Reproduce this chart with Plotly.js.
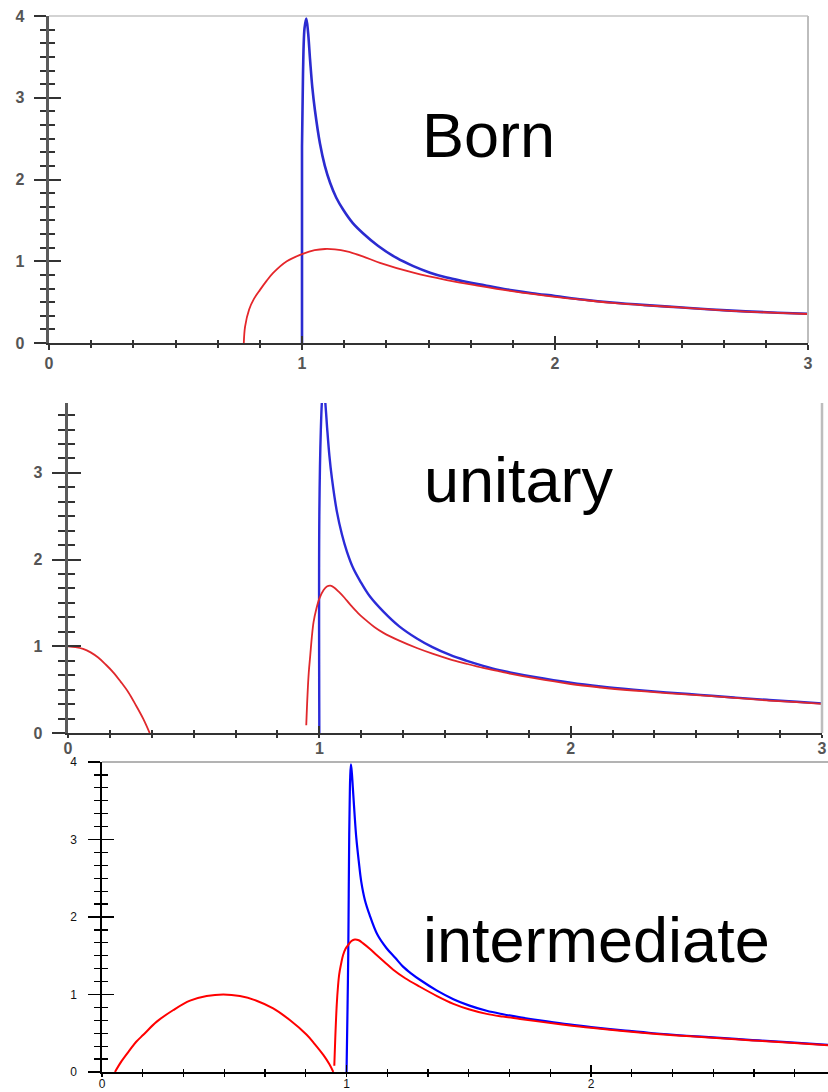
<!DOCTYPE html>
<html>
<head>
<meta charset="utf-8">
<script src="https://cdn.plot.ly/plotly-3.0.1.min.js"></script>
<style>html,body{margin:0;padding:0;background:#fff;}#chart{width:828px;height:1092px;}</style>
</head>
<body>
<div id="chart"></div>
<script>
// ---------- data ----------
var xTickVals = [0, 1, 2, 3];
var xTickText = ['0', '1', '2', '3'];
var yTickVals = [0, 1, 2, 3, 4];
var yTickText = ['0', '1', '2', '3', '4'];

var panelLabels = ['Born', 'unitary', 'intermediate'];

// Born
var bornBlueX = [1.0, 1.0, 1.004, 1.01, 1.017, 1.024, 1.032, 1.041, 1.051, 1.071, 1.09, 1.111, 1.135, 1.163, 1.2, 1.242, 1.3, 1.374, 1.44, 1.506, 1.572, 1.638, 1.70, 1.743, 1.83, 1.91, 2.0, 2.11, 2.226, 2.36, 2.49, 2.62, 2.753, 2.88, 3.0];
var bornBlueY = [0, 2.4, 3.3, 3.85, 3.97, 3.8, 3.46, 3.12, 2.85, 2.44, 2.17, 1.96, 1.78, 1.63, 1.47, 1.34, 1.19, 1.04, 0.94, 0.86, 0.80, 0.755, 0.717, 0.693, 0.645, 0.608, 0.575, 0.532, 0.495, 0.463, 0.437, 0.41, 0.387, 0.37, 0.357];
var bornRedX = [0.77, 0.775, 0.791, 0.81, 0.834, 0.86, 0.887, 0.94, 1.003, 1.05, 1.091, 1.13, 1.177, 1.24, 1.308, 1.44, 1.572, 1.70, 1.83, 2.0, 2.11, 2.226, 2.36, 2.49, 2.62, 2.753, 2.88, 3.0];
var bornRedY = [0, 0.2, 0.41, 0.54, 0.65, 0.76, 0.86, 1.0, 1.09, 1.135, 1.15, 1.145, 1.12, 1.06, 0.98, 0.86, 0.77, 0.70, 0.635, 0.565, 0.527, 0.49, 0.46, 0.435, 0.408, 0.385, 0.368, 0.355];

// unitary
var unitBlueX = [1.0, 1.0, 1.006, 1.012, 1.017, 1.024, 1.031, 1.04, 1.05, 1.07, 1.09, 1.11, 1.135, 1.163, 1.2, 1.255, 1.318, 1.388, 1.45, 1.52, 1.584, 1.652, 1.717, 1.758, 1.85, 2.0, 2.12, 2.25, 2.38, 2.515, 2.65, 2.78, 2.9, 3.0];
var unitBlueY = [0, 2.5, 3.5, 3.9, 4.0, 3.8, 3.52, 3.2, 2.94, 2.55, 2.29, 2.09, 1.9, 1.75, 1.58, 1.40, 1.23, 1.09, 0.99, 0.90, 0.835, 0.775, 0.725, 0.70, 0.65, 0.58, 0.537, 0.50, 0.468, 0.44, 0.41, 0.383, 0.36, 0.342];
var unitRedAX = [0, 0.03, 0.06, 0.09, 0.12, 0.15, 0.18, 0.21, 0.24, 0.27, 0.30, 0.325];
var unitRedAY = [1.0, 0.99, 0.97, 0.93, 0.87, 0.79, 0.70, 0.59, 0.47, 0.32, 0.16, 0.0];
var unitRedBX = [0.948, 0.953, 0.958, 0.964, 0.97, 0.977, 0.988, 1.0, 1.017, 1.03, 1.044, 1.06, 1.077, 1.1, 1.123, 1.155, 1.19, 1.22, 1.255, 1.318, 1.388, 1.45, 1.52, 1.584, 1.652, 1.717, 1.758, 1.85, 2.0, 2.12, 2.25, 2.38, 2.515, 2.65, 2.78, 2.9, 3.0];
var unitRedBY = [0.09, 0.44, 0.70, 0.90, 1.1, 1.28, 1.43, 1.55, 1.65, 1.69, 1.70, 1.675, 1.63, 1.56, 1.48, 1.38, 1.29, 1.22, 1.155, 1.065, 0.98, 0.915, 0.85, 0.80, 0.75, 0.71, 0.685, 0.635, 0.565, 0.525, 0.49, 0.46, 0.435, 0.405, 0.376, 0.355, 0.337];

// intermediate
var interBlueX = [1.0, 1.004, 1.007, 1.009, 1.011, 1.013, 1.015, 1.018, 1.022, 1.026, 1.033, 1.04, 1.05, 1.06, 1.075, 1.094, 1.125, 1.163, 1.2, 1.231, 1.265, 1.30, 1.37, 1.437, 1.5, 1.573, 1.64, 1.71, 1.79, 1.89, 2.0, 2.13, 2.255, 2.39, 2.528, 2.66, 2.80, 2.97];
var interBlueY = [0, 0.8, 1.51, 2.3, 3.06, 3.5, 3.8, 3.97, 3.85, 3.66, 3.32, 3.02, 2.72, 2.46, 2.22, 2.03, 1.78, 1.60, 1.47, 1.36, 1.27, 1.19, 1.05, 0.94, 0.86, 0.79, 0.745, 0.705, 0.665, 0.62, 0.58, 0.538, 0.50, 0.468, 0.44, 0.412, 0.385, 0.35];
var interRedAX = [0.053, 0.08, 0.114, 0.14, 0.169, 0.224, 0.292, 0.36, 0.428, 0.496, 0.564, 0.632, 0.70, 0.768, 0.837, 0.87, 0.905, 0.93, 0.946];
var interRedAY = [0, 0.14, 0.285, 0.39, 0.48, 0.65, 0.80, 0.92, 0.98, 1.0, 0.98, 0.92, 0.82, 0.67, 0.48, 0.36, 0.22, 0.10, 0];
var interRedBX = [0.95, 0.954, 0.96, 0.965, 0.97, 0.978, 0.986, 0.996, 1.007, 1.02, 1.034, 1.05, 1.068, 1.095, 1.123, 1.155, 1.191, 1.24, 1.30, 1.37, 1.437, 1.5, 1.573, 1.64, 1.71, 1.79, 1.89, 2.0, 2.13, 2.255, 2.39, 2.528, 2.66, 2.80, 2.97];
var interRedBY = [0.08, 0.44, 0.87, 1.1, 1.26, 1.4, 1.51, 1.59, 1.64, 1.69, 1.71, 1.70, 1.66, 1.59, 1.51, 1.42, 1.32, 1.21, 1.10, 0.98, 0.88, 0.81, 0.75, 0.715, 0.685, 0.65, 0.61, 0.57, 0.53, 0.495, 0.463, 0.435, 0.408, 0.38, 0.345];

// ---------- styling ----------
var W = 828, H = 1092;
function px2x(p) { return p / W; }
function py2y(p) { return 1 - p / H; }

var bigFont = 'Liberation Sans, Arial, sans-serif';
var panels = [
  { xd: [px2x(49), px2x(808)], yd: [py2y(343), py2y(16)], xr: [0, 3], yr: [0, 4],
    axisCol: '#333', yLineCol: '#5a5a5a', yLineW: 3.5, xLineW: 1.6, tickCol: '#333', tickW: 2,
    font: { family: bigFont, size: 16, color: '#555', weight: 'bold' },
    blue: '#2b2bd0', red: '#e5262a', blueW: 2.6, redW: 1.8,
    yMaj: 12, yMin: 6, xMajOut: 5, xMajIn: 7, xMin: 3.5, xStand: 0, yStand: 6 },
  { xd: [px2x(68), px2x(822)], yd: [py2y(733), py2y(403)], xr: [0, 3], yr: [0, 3.806],
    axisCol: '#333', yLineCol: '#5a5a5a', yLineW: 3.5, xLineW: 1.6, tickCol: '#333', tickW: 2,
    font: { family: bigFont, size: 16, color: '#555', weight: 'bold' },
    blue: '#2b2bd8', red: '#e0282c', blueW: 2.4, redW: 1.8,
    yMaj: 13, yMin: 7, xMajOut: 3, xMajIn: 7, xMin: 3.5, xStand: -3, yStand: 6 },
  { xd: [px2x(102), 1], yd: [py2y(1072), py2y(762)], xr: [0, 2.969], yr: [0, 4],
    axisCol: '#000', yLineCol: '#000', yLineW: 1.6, xLineW: 1.6, tickCol: '#000', tickW: 1.3,
    font: { family: bigFont, size: 12, color: '#111' },
    blue: '#0000ff', red: '#ff0000', blueW: 2.2, redW: 2.0,
    yMaj: 12, yMin: 6, xMajOut: 3, xMajIn: 7, xMin: 3.5, xStand: -3, yStand: 9 }
];

var series = [
  [[bornBlueX, bornBlueY, 'blue']],
  [[unitBlueX, unitBlueY, 'blue']],
  [[interBlueX, interBlueY, 'blue']]
];
series[0].push([bornRedX, bornRedY, 'red']);
series[1].push([unitRedAX, unitRedAY, 'red'], [unitRedBX, unitRedBY, 'red']);
series[2].push([interRedAX, interRedAY, 'red'], [interRedBX, interRedBY, 'red']);

var traces = [];
var layout = {
  width: W, height: H, margin: { l: 0, r: 0, t: 0, b: 0, pad: 0 },
  paper_bgcolor: '#fff', plot_bgcolor: 'rgba(0,0,0,0)', showlegend: false,
  shapes: [], annotations: []
};

panels.forEach(function (p, i) {
  var n = i + 1;
  var o = i + 4;
  var xk = n === 1 ? 'xaxis' : 'xaxis' + n, yk = n === 1 ? 'yaxis' : 'yaxis' + n;
  var xs = n === 1 ? 'x' : 'x' + n, ys = n === 1 ? 'y' : 'y' + n;
  layout[xk] = {
    domain: p.xd, range: p.xr, anchor: ys, fixedrange: true,
    tickmode: 'array', tickvals: xTickVals, ticktext: xTickText,
    ticks: 'outside', ticklen: p.xMajOut, tickwidth: p.tickW, tickcolor: p.tickCol,
    minor: { tickmode: 'linear', tick0: 0, dtick: 1 / 6, ticks: 'outside', ticklen: p.xMin, tickwidth: p.tickW, tickcolor: p.tickCol, showgrid: false },
    showline: true, linecolor: p.axisCol, linewidth: p.xLineW,
    showgrid: false, zeroline: false, tickfont: p.font, ticklabelstandoff: p.xStand
  };
  layout[yk] = {
    domain: p.yd, range: p.yr, anchor: xs, fixedrange: true,
    tickmode: 'array', tickvals: yTickVals, ticktext: yTickText,
    ticks: 'outside', ticklen: p.yMaj, tickwidth: p.tickW, tickcolor: p.tickCol,
    minor: { tickmode: 'linear', tick0: 0, dtick: 1 / 6, ticks: 'outside', ticklen: p.yMin, tickwidth: p.tickW, tickcolor: p.tickCol, showgrid: false },
    showline: true, linecolor: p.yLineCol, linewidth: p.yLineW,
    showgrid: false, zeroline: false, tickfont: p.font, ticklabelstandoff: p.yStand
  };
  layout['xaxis' + o] = {
    overlaying: xs, anchor: 'y' + o, range: p.xr, fixedrange: true,
    tickmode: 'array', tickvals: xTickVals, showticklabels: false,
    ticks: 'inside', ticklen: p.xMajIn, tickwidth: p.tickW, tickcolor: p.tickCol,
    minor: { tickmode: 'linear', tick0: 0, dtick: 1 / 6, ticks: 'inside', ticklen: p.xMin, tickwidth: p.tickW, tickcolor: p.tickCol, showgrid: false },
    showline: false, showgrid: false, zeroline: false
  };
  layout['yaxis' + o] = {
    overlaying: ys, anchor: 'x' + o, range: p.yr, fixedrange: true,
    tickmode: 'array', tickvals: yTickVals, showticklabels: false,
    ticks: 'inside', ticklen: p.yMaj, tickwidth: p.tickW, tickcolor: p.tickCol,
    minor: { tickmode: 'linear', tick0: 0, dtick: 1 / 6, ticks: 'inside', ticklen: p.yMin, tickwidth: p.tickW, tickcolor: p.tickCol, showgrid: false },
    showline: false, showgrid: false, zeroline: false
  };
  traces.push({ x: [], y: [], xaxis: 'x' + o, yaxis: 'y' + o, type: 'scatter', mode: 'lines', hoverinfo: 'skip' });

  series[i].forEach(function (s) {
    var isBlue = s[2] === 'blue';
    traces.push({
      x: s[0], y: s[1], xaxis: xs, yaxis: ys, type: 'scatter', mode: 'lines',
      line: { color: isBlue ? p.blue : p.red, width: isBlue ? p.blueW : p.redW, shape: 'spline', smoothing: 1 },
      hoverinfo: 'skip'
    });
  });
});

// frame lines
layout.shapes.push(
  { type: 'line', xref: 'x domain', yref: 'y domain', x0: 0, x1: 1, y0: 1, y1: 1, line: { color: '#a8a8a8', width: 1.2 } },
  { type: 'line', xref: 'x domain', yref: 'y domain', x0: 1, x1: 1, y0: 0, y1: 1, line: { color: '#bdbdbd', width: 2 } },
  { type: 'line', xref: 'x2 domain', yref: 'y2 domain', x0: 1, x1: 1, y0: 0, y1: 1, line: { color: '#bdbdbd', width: 2.5 } },
  { type: 'line', xref: 'x3 domain', yref: 'y3 domain', x0: 0, x1: 1, y0: 1, y1: 1, line: { color: '#9a9a9a', width: 1.5 } }
);

// big panel labels
var labelPos = [[420, 135], [422, 480], [421, 940]];
panelLabels.forEach(function (t, i) {
  layout.annotations.push({
    text: t, xref: 'paper', yref: 'paper', x: px2x(labelPos[i][0]), y: py2y(labelPos[i][1]),
    xanchor: 'left', yanchor: 'middle', showarrow: false,
    font: { family: bigFont, size: 63, color: '#000' }
  });
});

Plotly.newPlot('chart', traces, layout, { staticPlot: true, displayModeBar: false });
</script>
</body>
</html>
